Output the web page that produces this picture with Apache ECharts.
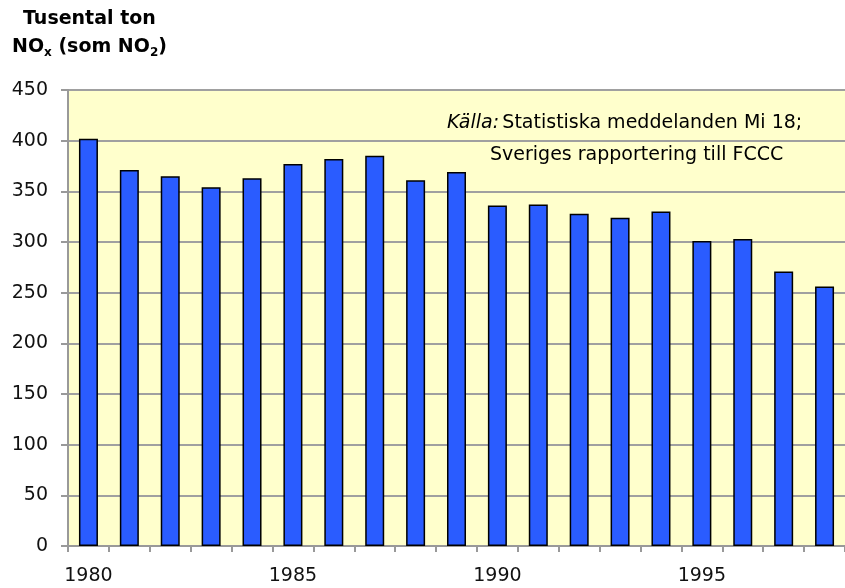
<!DOCTYPE html>
<html>
<head>
<meta charset="utf-8">
<script src="https://cdn.jsdelivr.net/npm/echarts@6/dist/echarts.min.js"></script>
<style>
  html, body { margin: 0; padding: 0; background: #fff; }
  #chart { width: 845px; height: 588px; }
</style>
</head>
<body>
<div id="chart"></div>
<script>
// years on the x axis
var years = ['1980', '1981', '1982', '1983', '1984', '1985', '1986', '1987', '1988', '1989',
  '1990', '1991', '1992', '1993', '1994', '1995', '1996', '1997', '1998']
// NOx emissions, thousand tonnes (as NO2)
var noxValues = [402, 371, 365, 354, 363, 377, 382, 385, 361, 369,
  336, 337, 328, 324, 330, 301, 303, 271, 256]
var yTicks = [0, 50, 100, 150, 200, 250, 300, 350, 400, 450]

var myChart = echarts.init(document.getElementById('chart'))
var font = '"DejaVu Sans", Verdana, sans-serif'

var option = {
  animation: false,
  backgroundColor: '#fff',
  grid: {
    left: 68,
    top: 90,
    width: 785, // 19 categories, last one runs past the right edge
    height: 456,
    show: true,
    backgroundColor: '#FFFFCC',
    borderWidth: 0
  },
  graphic: [
    {
      type: 'text',
      left: 23,
      top: 10,
      style: { text: 'Tusental ton', font: 'bold 19px ' + font, fill: '#000' }
    },
    {
      type: 'text',
      left: 12,
      top: 38,
      style: {
        text: '{b|NO}{s|x}{b| (som NO}{s|2}{b|)}',
        rich: {
          b: { font: 'bold 19px ' + font, fill: '#000', height: 24 },
          s: { font: 'bold 12px ' + font, fill: '#000', padding: [11, 0, 0, 0] }
        }
      }
    },
    {
      type: 'text',
      left: 447,
      top: 114,
      z: 10,
      style: {
        text: '{i|Källa:} {n|Statistiska meddelanden Mi 18;}',
        rich: {
          i: { font: 'italic 19px ' + font, fill: '#000' },
          n: { font: '19px ' + font, fill: '#000' }
        }
      }
    },
    {
      type: 'text',
      left: 490,
      top: 146,
      z: 10,
      style: { text: 'Sveriges rapportering till FCCC', font: '19px ' + font, fill: '#000' }
    }
  ],
  xAxis: {
    type: 'category',
    data: years,
    axisLine: { lineStyle: { color: '#999', width: 2 } },
    axisTick: { show: true, length: 6, interval: 0, lineStyle: { color: '#999', width: 2 } },
    axisLabel: {
      interval: 4,
      margin: 21,
      color: '#111',
      fontSize: 19,
      fontFamily: font
    }
  },
  yAxis: {
    type: 'value',
    min: yTicks[0],
    max: yTicks[yTicks.length - 1],
    interval: 50,
    axisLine: { show: true, lineStyle: { color: '#999', width: 2 } },
    axisTick: { show: true, length: 7, lineStyle: { color: '#999', width: 2 } },
    axisLabel: { margin: 20, color: '#111', fontSize: 19, fontFamily: font },
    splitLine: { show: true, lineStyle: { color: '#a0a0a0', width: 2 } }
  },
  series: [
    {
      type: 'bar',
      data: noxValues,
      barWidth: 19,
      itemStyle: {
        color: '#2A5CFF',
        borderColor: '#000',
        borderWidth: 1.5
      }
    }
  ]
}
option && myChart.setOption(option)
</script>
</body>
</html>
